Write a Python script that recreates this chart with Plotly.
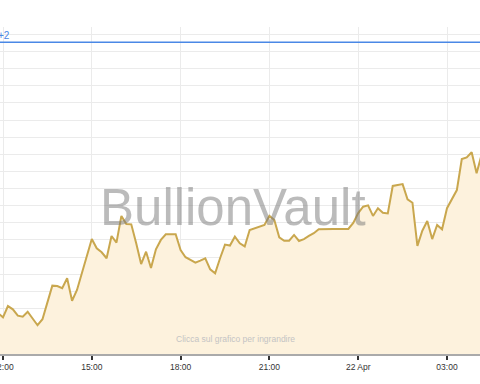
import pandas as pd
import plotly.graph_objects as go

# ---- data ----
start_time = "2014-04-21 11:50"
step = "10min"
prices = [
    761.73, 761.48, 762.14, 761.95, 761.58, 761.52, 761.81, 761.42, 761.02, 761.37,
    762.39, 763.33, 763.31, 763.18, 763.76, 762.45, 763.08, 764.05, 765.02, 766.05,
    765.51, 765.28, 764.93, 766.23, 765.84, 767.40, 766.93, 766.91, 765.80, 764.59,
    765.31, 764.36, 765.45, 766.00, 766.33, 766.33, 766.33, 765.41, 764.99, 764.83,
    764.67, 764.79, 764.93, 764.28, 764.05, 764.93, 765.73, 765.67, 766.19, 765.80,
    765.62, 766.58, 766.68, 766.81, 766.87, 767.41, 767.16, 766.15, 765.95, 765.95,
    766.29, 765.94, 766.05, 766.23, 766.39, 766.62, 766.64, 766.64, 766.64, 766.64,
    766.64, 766.64, 766.99, 767.57, 767.94, 768.02, 767.40, 767.85, 767.59, 767.55,
    769.15, 769.19, 769.26, 768.37, 768.17, 765.65, 766.54, 767.10, 766.05, 766.87,
    766.62, 767.85, 768.37, 768.91, 770.72, 770.82, 771.12, 769.89, 770.96,
]
ref_level = 777.54
ref_label = "+2"

tick_vals = ["2014-04-21 12:00", "2014-04-21 15:00", "2014-04-21 18:00",
             "2014-04-21 21:00", "2014-04-22 00:00", "2014-04-22 03:00"]
tick_text = ["12:00", "15:00", "18:00", "21:00", "22 Apr", "03:00"]

x_range = ["2014-04-21 11:53:55", "2014-04-22 04:06:54"]
y_range = [759.34, 778.43]

times = pd.date_range(start=start_time, periods=len(prices), freq=step)

FONT = "Liberation Sans, Arial, sans-serif"

fig = go.Figure()
fig.add_trace(go.Scatter(
    x=times, y=prices, mode="lines",
    line=dict(color="#c9a74e", width=2),
    fill="tozeroy", fillcolor="#fdf2dd",
    hoverinfo="skip", showlegend=False,
))

fig.add_shape(type="line", xref="paper", x0=0, x1=1, yref="y",
              y0=ref_level, y1=ref_level,
              line=dict(color="#4a88e6", width=1.5), layer="above")

fig.add_annotation(text=ref_label, xref="paper", x=0, xanchor="left", xshift=-4,
                   yref="y", y=ref_level, yanchor="bottom", yshift=-1,
                   showarrow=False, font=dict(family=FONT, size=10, color="#4a88e6"))

fig.add_annotation(text="BullionVault", xref="paper", x=0.485, xanchor="center",
                   yref="paper", y=0.4495, yanchor="middle",
                   showarrow=False,
                   font=dict(family=FONT, size=51, color="rgba(120,120,120,0.5)"))

fig.add_annotation(text="Clicca sul grafico per ingrandire", xref="paper", x=0.49,
                   xanchor="center", yref="paper", y=0.046, yanchor="middle",
                   showarrow=False,
                   font=dict(family=FONT, size=8.5, color="#c4c4c4"))

fig.update_layout(
    width=480, height=384,
    margin=dict(l=0, r=0, t=27, b=30),
    paper_bgcolor="white", plot_bgcolor="white",
    hovermode=False,
    xaxis=dict(
        type="date", range=x_range,
        tickvals=tick_vals, ticktext=tick_text,
        ticks="outside", ticklen=4, tickwidth=2, tickcolor="#333",
        ticklabeloverflow="allow", automargin=False,
        showline=True, linecolor="#aaaaaa", linewidth=2,
        showgrid=True, gridcolor="#ebebeb", gridwidth=1,
        zeroline=False,
        tickfont=dict(family=FONT, size=8.5, color="#333"),
        fixedrange=True,
    ),
    yaxis=dict(
        range=y_range, tick0=760, dtick=1,
        showticklabels=False, ticks="",
        showgrid=True, gridcolor="#ebebeb", gridwidth=1,
        zeroline=False, showline=False, automargin=False,
        fixedrange=True,
    ),
)

fig.write_html("out.html", config={"displayModeBar": False})
